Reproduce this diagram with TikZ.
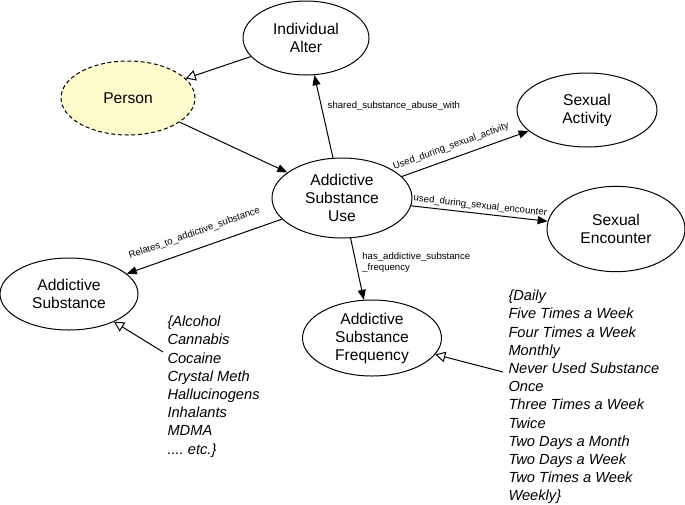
\documentclass[tikz,border=0pt]{standalone}
\usepackage{fontspec}
\setmainfont{Liberation Sans}
\usetikzlibrary{shapes.geometric,arrows.meta,positioning,calc}
\definecolor{personfill}{RGB}{253,251,204}
\tikzset{
  every picture/.style={line width=0.75pt},
  cls/.style={ellipse, draw, inner sep=0pt, align=center,
              font=\fontsize{11.7}{13.5}\selectfont},
  clsext/.style={cls, dash pattern=on 3pt off 2pt, fill=personfill},
  rel/.style={-{Triangle[length=7.5pt,width=6pt]}},
  isa/.style={-{Triangle[open,fill=white,length=7.5pt,width=8pt]}},
  elab/.style={font=\fontsize{7.2}{8.3}\selectfont, inner sep=1pt},
  vals/.style={anchor=west, align=left, inner sep=0pt,
               font=\itshape\fontsize{11}{13.65}\selectfont},
}

\begin{document}
\begin{tikzpicture}[x=0.75pt,y=-0.75pt]
  \useasboundingbox (0,0) rectangle (685,504);
  % classes
  \node[cls, minimum width=94.5pt, minimum height=55.5pt] (alter) at (306,38) {Individual\\Alter};
  \node[clsext, minimum width=100.5pt, minimum height=55.5pt] (person) at (128,98) {Person};
  \node[cls, minimum width=105pt, minimum height=55.5pt] (sexact) at (587,110) {Sexual\\Activity};
  \node[cls, minimum width=105pt, minimum height=60pt] (use) at (342,198) {Addictive\\Substance\\Use};
  \node[cls, minimum width=103.5pt, minimum height=64pt] (sexenc) at (616,229) {Sexual\\Encounter};
  \node[cls, minimum width=103.5pt, minimum height=54pt] (subst) at (69,294) {Addictive\\Substance};
  \node[cls, minimum width=104.25pt, minimum height=57pt] (freq) at (372,338) {Addictive\\Substance\\Frequency};
  % value lists
  \node[vals] (substvals) at (167,386.5) {\{Alcohol\\Cannabis\\Cocaine\\Crystal Meth\\Hallucinogens\\Inhalants\\MDMA\\....\ etc.\}};
  \node[vals] (freqvals) at (508,397) {\{Daily\\Five Times a Week\\Four Times a Week\\Monthly\\Never Used Substance\\Once\\Three Times a Week\\Twice\\Two Days a Month\\Two Days a Week\\Two Times a Week\\Weekly\}};
  \coordinate (substin) at (163,352);
  \coordinate (freqin) at (503,372);
  % relations
  \draw[isa] (alter) -- (person);
  \draw[rel] (person) -- (use);
  \draw[rel] (use) -- node[elab, pos=0.63, right=3.5pt] {shared\_substance\_abuse\_with} (alter);
  \draw[rel] (use) -- node[elab, sloped, above=4pt, pos=0.42] {Used\_during\_sexual\_activity} (sexact);
  \draw[rel] (use) -- node[elab, sloped, above=1pt, pos=0.5] {used\_during\_sexual\_encounter} (sexenc);
  \draw[rel] (use) -- node[elab, sloped, above=7pt, pos=0.53] {Relates\_to\_addictive\_substance} (subst);
  \draw[rel] (use) -- node[elab, pos=0.4, right=3.5pt, align=left] {has\_addictive\_substance\\\_frequency} (freq);
  \draw[isa] (substin) -- (subst);
  \draw[isa] (freqin) -- (freq);
\end{tikzpicture}
\end{document}
